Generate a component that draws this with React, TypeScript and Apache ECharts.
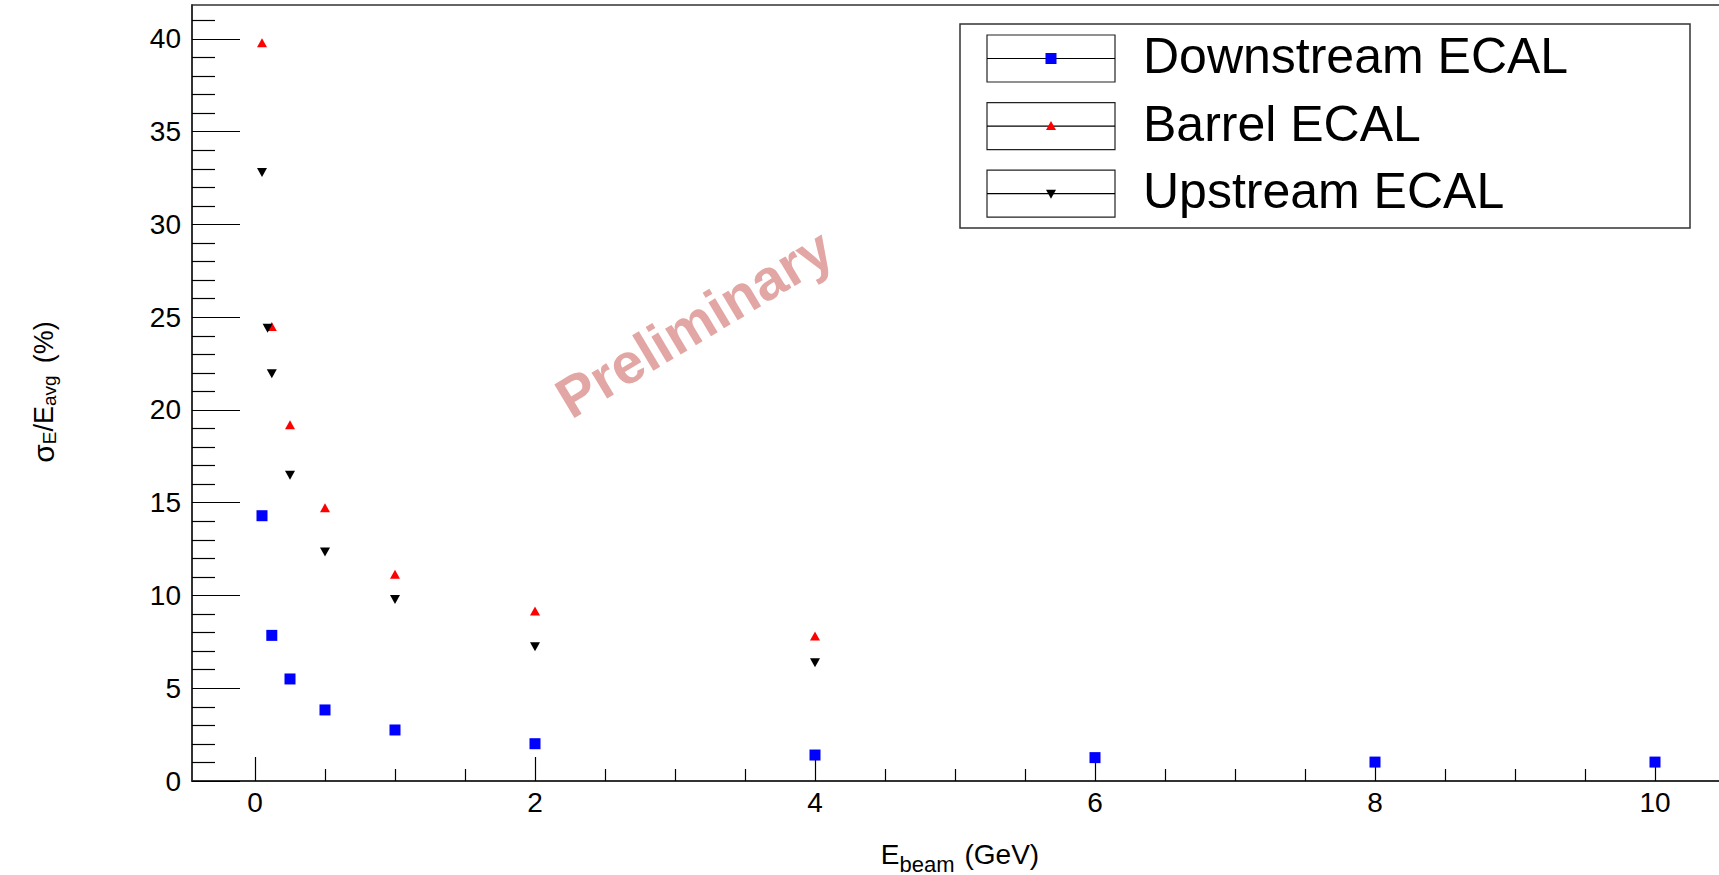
import React, { useEffect, useRef } from "react";
import * as echarts from "echarts";

const seriesNames = ["Downstream ECAL", "Barrel ECAL", "Upstream ECAL"];
const seriesColors = ["#0000ff", "#ff0000", "#000000"];

const downstreamX = [0.05, 0.12, 0.25, 0.5, 1, 2, 4, 6, 8, 10];
const downstreamY = [14.3, 7.85, 5.5, 3.83, 2.75, 2.01, 1.4, 1.26, 1.02, 1.02];

const barrelX = [0.05, 0.12, 0.25, 0.5, 1, 2, 4];
const barrelY = [39.8, 24.5, 19.2, 14.73, 11.15, 9.17, 7.82];

const upstreamX = [0.05, 0.09, 0.12, 0.25, 0.5, 1, 2, 4];
const upstreamY = [32.8, 24.4, 21.95, 16.48, 12.35, 9.78, 7.23, 6.38];

const xMajorTicks = [0, 2, 4, 6, 8, 10];
const xMinorTicks = [0.5, 1, 1.5, 2.5, 3, 3.5, 4.5, 5, 5.5, 6.5, 7, 7.5, 8.5, 9, 9.5, 10.5];
const yMajorTicks = [0, 5, 10, 15, 20, 25, 30, 35, 40];
const yMinorTicks = [1, 2, 3, 4, 6, 7, 8, 9, 11, 12, 13, 14, 16, 17, 18, 19, 21, 22, 23, 24, 26, 27, 28, 29, 31, 32, 33, 34, 36, 37, 38, 39, 41];

const X_MIN = -0.45;
const X_MAX = 10.55;
const Y_MIN = 0;
const Y_MAX = 41.83;

const FONT = "Liberation Sans";

function zip(xs: number[], ys: number[]) {
  return xs.map((x, i) => [x, ys[i]]);
}

function legendEntry(i: number): any[] {
  const boxX = 987;
  const boxW = 128;
  const boxH = 47;
  const boxY = 35 + i * 67.6;
  const cy = boxY + boxH / 2;
  const mx = 1051;
  const els: any[] = [
    {
      type: "rect",
      shape: { x: boxX, y: boxY, width: boxW, height: boxH },
      style: { fill: "#fff", stroke: "#222", lineWidth: 1.2 },
      z: 101,
    },
    {
      type: "line",
      shape: { x1: boxX, y1: cy, x2: boxX + boxW, y2: cy },
      style: { stroke: "#000", lineWidth: 1.2 },
      z: 102,
    },
    {
      type: "text",
      x: 1143,
      y: cy - 2.5,
      style: {
        text: seriesNames[i],
        fontSize: 50,
        fontFamily: FONT,
        fill: "#000",
        align: "left",
        verticalAlign: "middle",
      },
      z: 102,
    },
  ];
  if (i === 0) {
    els.push({
      type: "rect",
      shape: { x: mx - 5.5, y: cy - 5.5, width: 11, height: 11 },
      style: { fill: seriesColors[0] },
      z: 103,
    });
  } else if (i === 1) {
    els.push({
      type: "polygon",
      shape: { points: [[mx, cy - 5], [mx + 5, cy + 4], [mx - 5, cy + 4]] },
      style: { fill: seriesColors[1] },
      z: 103,
    });
  } else {
    els.push({
      type: "polygon",
      shape: { points: [[mx - 5, cy - 4], [mx + 5, cy - 4], [mx, cy + 5]] },
      style: { fill: seriesColors[2] },
      z: 103,
    });
  }
  return els;
}

export default function App() {
  const ref = useRef<HTMLDivElement>(null);

  useEffect(() => {
    document.body.style.margin = "0";
    if (!ref.current) return;
    const chart = echarts.init(ref.current, undefined, { renderer: "svg" });

    const axisCommonX = {
      type: "value",
      min: X_MIN,
      max: X_MAX,
      position: "bottom",
      splitLine: { show: false },
    };
    const axisCommonY = {
      type: "value",
      min: Y_MIN,
      max: Y_MAX,
      position: "left",
      splitLine: { show: false },
    };

    const option: any = {
      animation: false,
      backgroundColor: "#ffffff",
      grid: {
        left: 192,
        top: 5,
        width: 1540,
        height: 776,
        show: true,
        borderColor: "#333",
        borderWidth: 1.5,
        backgroundColor: "transparent",
        containLabel: false,
        outerBoundsMode: "none",
      },
      xAxis: [
        {
          ...axisCommonX,
          axisLine: { show: true, onZero: false, lineStyle: { color: "#222", width: 1.5 } },
          axisTick: {
            show: true,
            inside: true,
            length: 24,
            customValues: xMajorTicks,
            lineStyle: { color: "#000", width: 1.2 },
          },
          axisLabel: {
            show: true,
            customValues: xMajorTicks,
            fontSize: 28,
            fontFamily: FONT,
            color: "#000",
            margin: 7,
          },
        },
        {
          ...axisCommonX,
          axisLine: { show: false, onZero: false },
          axisTick: {
            show: true,
            inside: true,
            length: 12,
            customValues: xMinorTicks,
            lineStyle: { color: "#000", width: 1.2 },
          },
          axisLabel: { show: false },
        },
      ],
      yAxis: [
        {
          ...axisCommonY,
          axisLine: { show: true, onZero: false, lineStyle: { color: "#222", width: 1.5 } },
          axisTick: {
            show: true,
            inside: true,
            length: 48,
            customValues: yMajorTicks,
            lineStyle: { color: "#000", width: 1.2 },
          },
          axisLabel: {
            show: true,
            customValues: yMajorTicks,
            fontSize: 28,
            fontFamily: FONT,
            color: "#000",
            margin: 11,
          },
        },
        {
          ...axisCommonY,
          axisLine: { show: false, onZero: false },
          axisTick: {
            show: true,
            inside: true,
            length: 23,
            customValues: yMinorTicks,
            lineStyle: { color: "#000", width: 1.2 },
          },
          axisLabel: { show: false },
        },
      ],
      series: [
        {
          name: seriesNames[0],
          type: "scatter",
          xAxisIndex: 0,
          yAxisIndex: 0,
          symbol: "rect",
          symbolSize: 11,
          itemStyle: { color: seriesColors[0], opacity: 1 },
          data: zip(downstreamX, downstreamY),
          z: 5,
        },
        {
          name: seriesNames[1],
          type: "scatter",
          xAxisIndex: 0,
          yAxisIndex: 0,
          symbol: "triangle",
          symbolSize: [10, 9],
          itemStyle: { color: seriesColors[1], opacity: 1 },
          data: zip(barrelX, barrelY),
          z: 4,
        },
        {
          name: seriesNames[2],
          type: "scatter",
          xAxisIndex: 0,
          yAxisIndex: 0,
          symbol: "triangle",
          symbolRotate: 180,
          symbolSize: [10, 9],
          itemStyle: { color: seriesColors[2], opacity: 1 },
          data: zip(upstreamX, upstreamY),
          z: 6,
        },
      ],
      graphic: [
        {
          type: "text",
          x: 694,
          y: 323,
          rotation: (31 * Math.PI) / 180,
          style: {
            text: "Preliminary",
            fontSize: 57,
            fontWeight: "bold",
            fontFamily: FONT,
            fill: "#e2a6a4",
            align: "center",
            verticalAlign: "middle",
          },
          z: 1,
        },
        {
          type: "text",
          x: 960,
          y: 854,
          style: {
            text: "{m|E}{s|beam}{g|(GeV)}",
            align: "center",
            verticalAlign: "middle",
            rich: {
              m: { fontSize: 28, fontFamily: FONT, lineHeight: 42, fill: "#000" },
              s: { fontSize: 22, fontFamily: FONT, lineHeight: 22, verticalAlign: "bottom", fill: "#000" },
              g: { fontSize: 28, fontFamily: FONT, lineHeight: 42, fill: "#000", padding: [0, 0, 0, 10] },
            },
          },
          z: 50,
        },
        {
          type: "text",
          x: 43.6,
          y: 392,
          rotation: Math.PI / 2,
          style: {
            text: "{sig|σ}{s|E}{m|/E}{s|avg}{g|(%)}",
            align: "center",
            verticalAlign: "middle",
            rich: {
              sig: { fontSize: 30, fontFamily: FONT, lineHeight: 30, fill: "#000" },
              m: { fontSize: 27, fontFamily: FONT, lineHeight: 30, fill: "#000" },
              s: { fontSize: 19, fontFamily: FONT, lineHeight: 19, verticalAlign: "bottom", fill: "#000" },
              g: { fontSize: 27, fontFamily: FONT, lineHeight: 30, fill: "#000", padding: [0, 0, 0, 12] },
            },
          },
          z: 50,
        },
        {
          type: "rect",
          shape: { x: 960, y: 24, width: 730, height: 204 },
          style: { fill: "#fff", stroke: "#333", lineWidth: 1.5 },
          z: 100,
        },
        ...legendEntry(0),
        ...legendEntry(1),
        ...legendEntry(2),
      ],
    };

    chart.setOption(option);
    return () => {
      chart.dispose();
    };
  }, []);

  return <div ref={ref} style={{ width: 1719, height: 875 }} />;
}
